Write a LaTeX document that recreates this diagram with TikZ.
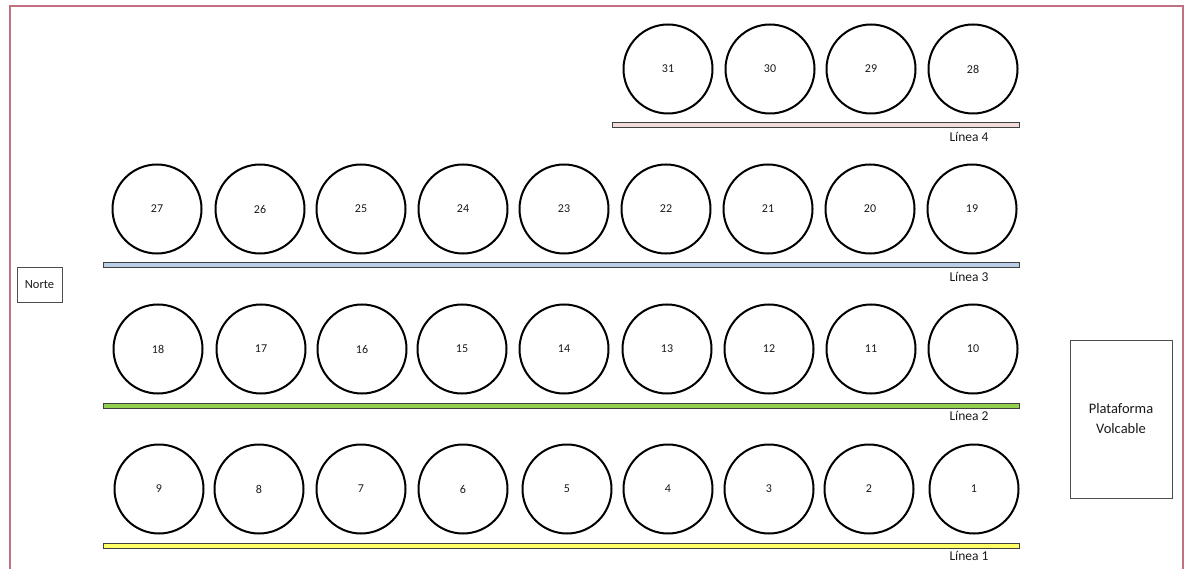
\documentclass[tikz,border=0pt]{standalone}
\usepackage{fontspec}
\setmainfont{Carlito}
\definecolor{frame}{HTML}{C0707F}
\definecolor{l4}{HTML}{F2DCDB}
\definecolor{l3}{HTML}{B9CDE5}
\definecolor{l2}{HTML}{92D050}
\definecolor{l1}{HTML}{FFFF66}
\definecolor{txt}{HTML}{1A1A1A}
\begin{document}
\begin{tikzpicture}[x=1pt,y=-1pt,
  tank/.style={circle,draw=black,line width=2pt,minimum size=89pt,inner sep=0pt,text=txt,font=\fontsize{12}{14}\selectfont},
  bar/.style={draw=black!75,line width=1pt},
  lbl/.style={font=\fontsize{13.5}{15}\selectfont,inner sep=0pt,text=txt},
  box/.style={draw=black!70,line width=1pt,fill=white}]
\useasboundingbox (0,0) rectangle (1188,569);
\draw[frame,line width=2pt] (10,575) -- (10,6) -- (1183,6) -- (1183,575);
% row 4
\foreach \n/\x in {31/668,30/770,29/871,28/973}
  \node[tank] (t\n) at (\x,69) {\n};
% row 3
\foreach \n/\x in {27/157,26/260,25/361,24/463,23/564,22/666,21/768,20/870,19/972}
  \node[tank] (t\n) at (\x,209) {\n};
% row 2
\foreach \n/\x in {18/158,17/261,16/362,15/462,14/564,13/667,12/769,11/871,10/973}
  \node[tank] (t\n) at (\x,349) {\n};
% row 1
\foreach \n/\x in {9/159,8/259,7/361,6/463,5/567,4/668,3/769,2/869,1/974}
  \node[tank] (t\n) at (\x,489) {\n};
% bars
\draw[bar,fill=l4] (612,123) rectangle (1019,128);
\draw[bar,fill=l3] (103,263) rectangle (1019,268);
\draw[bar,fill=l2] (103,403) rectangle (1019,408);
\draw[bar,fill=l1] (103,543) rectangle (1019,548);
\node[lbl] (L4) at (969,137) {Línea 4};
\node[lbl] (L3) at (969,277) {Línea 3};
\node[lbl] (L2) at (969,416) {Línea 2};
\node[lbl] (L1) at (969,556) {Línea 1};
% boxes
\node[box,minimum width=45pt,minimum height=34pt,inner sep=0pt,text=txt,font=\fontsize{12.5}{14}\selectfont] (norte) at (39.5,285) {Norte};
\node[box,minimum width=102pt,minimum height=158pt,inner sep=0pt] (plat) at (1121,419) {};
\node[font=\fontsize{14.5}{20}\selectfont,align=center,inner sep=0pt,text=txt] (platt) at (1121,419) {Plataforma\\Volcable};
\end{tikzpicture}
\end{document}
